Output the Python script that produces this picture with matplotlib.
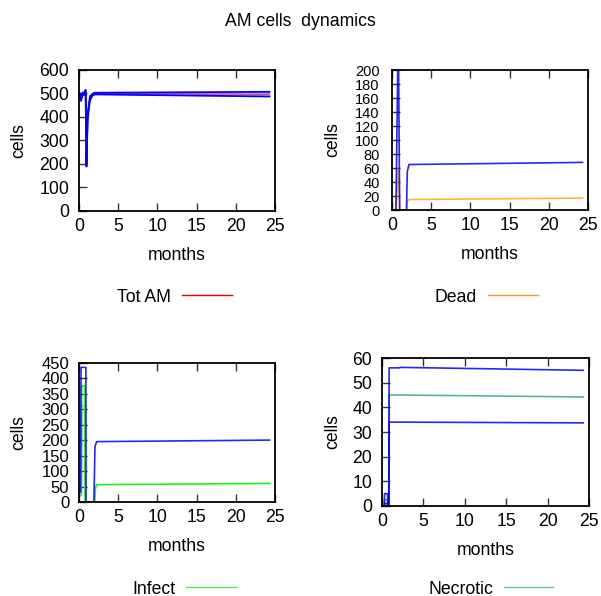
import matplotlib
matplotlib.use("Agg")
import matplotlib.pyplot as plt
from matplotlib.transforms import blended_transform_factory

plt.rcParams['font.family'] = ['Liberation Sans', 'DejaVu Sans']
plt.rcParams['font.size'] = 12.7

# ---------------- data ----------------
# Tot AM
t_am = [0, 0.1, 0.26, 0.45, 0.7, 0.85, 0.95, 1.1, 1.4, 1.7, 2.0, 24.3]
am_mean = [500, 496, 475, 497, 500, 510, 192, 400, 480, 494, 499, 497]
am_hi = [505, 502, 485, 503, 506, 515, 200, 410, 488, 498, 503, 507]
am_lo = [495, 491, 468, 492, 495, 505, 188, 390, 472, 490, 496, 487]

# Dead
t_dead = [0, 0.4, 0.5, 0.8, 0.98, 1.85, 1.95, 2.17, 24.3]
dead_hi = [0, 0, 0, 260, 0, 0, 55, 65, 68]
dead_mean = [0, 0, 0, 60, 0, 0, 12, 15, 17]

# Infect
t_inf = [0, 0.2, 0.26, 0.88, 0.9, 1.85, 1.9, 2.04, 2.25, 24.3]
inf_hi = [32, 32, 435, 435, 0, 0, 0, 180, 195, 200]
t_inf2 = [0, 0.3, 0.34, 0.76, 0.78, 1.9, 2.0, 2.1, 2.25, 24.3]
inf_mean = [25, 25, 375, 375, 0, 0, 0, 45, 56, 60]
t_inf3 = [0, 0.3, 0.34, 0.76, 0.78]
inf_mid = [20, 20, 310, 310, 0]

# Necrotic
t_nec = [0, 0.28, 0.3, 0.67, 0.69, 0.83, 0.86, 2.1, 2.2, 24.3]
nec_hi = [0, 0, 5, 5, 0, 0, 56, 56, 56.2, 55]
nec_mean = [0, 0, 2.5, 2.5, 0, 0, 45, 45, 45, 44.2]
nec_lo = [0, 0, 1, 1, 0, 0, 34, 34, 34, 33.7]

xticks = [0, 5, 10, 15, 20, 25]

BLUE = '#0000ff'
LBLUE = '#6a6aff'
RED = '#ff2020'
ORANGE = '#ffa500'
GREEN = '#22ee22'
TEAL = '#2aa57c'

W, H = 601, 596
fig = plt.figure(figsize=(W / 100, H / 100), dpi=100)
fig.text(0.5, 1 - 21 / H, 'AM cells  dynamics', ha='center', va='center')


def style(ax, ymax, ystep, ylab_x, ysize=12.7, ypad=7):
    ax.set_xlim(0, 25)
    ax.set_ylim(0, ymax)
    ax.set_xticks(xticks)
    ax.set_yticks(list(range(0, ymax + 1, ystep)))
    ax.tick_params(axis='x', direction='in', top=True, bottom=True, length=6, width=1, pad=5, color='#333333')
    ax.tick_params(axis='y', direction='in', right=False, left=True, length=6, width=1, pad=ypad,
                   color='#333333', labelsize=ysize)
    for s in ax.spines.values():
        s.set_linewidth(1.3)
    ax.set_xlabel('months', labelpad=9)
    ax.set_ylabel('cells')
    ax.yaxis.set_label_coords(ylab_x / W, 0.5,
                              transform=blended_transform_factory(fig.transFigure, ax.transAxes))


def legend(ax, label, color, x, y):
    h, = ax.plot([], [], color=color, lw=1)
    ax.legend([h], [label], loc='center left', bbox_to_anchor=(x / W, 1 - y / H),
              bbox_transform=fig.transFigure, frameon=False, markerfirst=False,
              handlelength=2.8, handletextpad=0.63, borderpad=0, borderaxespad=0)


# Tot AM
ax1 = fig.add_axes([79 / W, 1 - 210.7 / H, 196 / W, 140.7 / H])
ax1.fill_between(t_am, am_lo, am_hi, color='#9a9aff', alpha=0.6, lw=0)
ax1.plot(t_am, am_mean, color=RED, lw=1.0, alpha=0.8)
ax1.plot(t_am, am_hi, color=BLUE, lw=1.3)
ax1.plot(t_am, am_lo, color=BLUE, lw=1.3)
style(ax1, 600, 100, 27)
legend(ax1, 'Tot AM', '#e00000', 117, 297)

# Dead
ax2 = fig.add_axes([392 / W, 1 - 210 / H, 196 / W, 140 / H])
ax2.plot(t_dead, dead_mean, color=ORANGE, lw=1.2, alpha=0.8)
ax2.plot(t_dead, dead_hi, color=BLUE, lw=1.2, alpha=0.85)
style(ax2, 200, 20, 341, ysize=10.5, ypad=9)
legend(ax2, 'Dead', '#f0a020', 435, 297)

# Infect
ax3 = fig.add_axes([79 / W, 1 - 502 / H, 196 / W, 139.3 / H])
ax3.plot(t_inf3, inf_mid, color=LBLUE, lw=1.0, alpha=0.6)
ax3.plot(t_inf2, inf_mean, color=GREEN, lw=1.2)
ax3.plot(t_inf, inf_hi, color=BLUE, lw=1.2, alpha=0.85)
style(ax3, 450, 50, 27, ysize=12)
legend(ax3, 'Infect', '#55e855', 132, 589)

# Necrotic
ax4 = fig.add_axes([382 / W, 1 - 506 / H, 207 / W, 148 / H])
ax4.plot(t_nec, nec_mean, color=TEAL, lw=1.2, alpha=0.8)
ax4.plot(t_nec, nec_hi, color=BLUE, lw=1.2, alpha=0.85)
ax4.plot(t_nec, nec_lo, color=BLUE, lw=1.2, alpha=0.85)
style(ax4, 60, 10, 341)
legend(ax4, 'Necrotic', '#5cc4a0', 428, 589)

fig.savefig('out.png', dpi=100)
